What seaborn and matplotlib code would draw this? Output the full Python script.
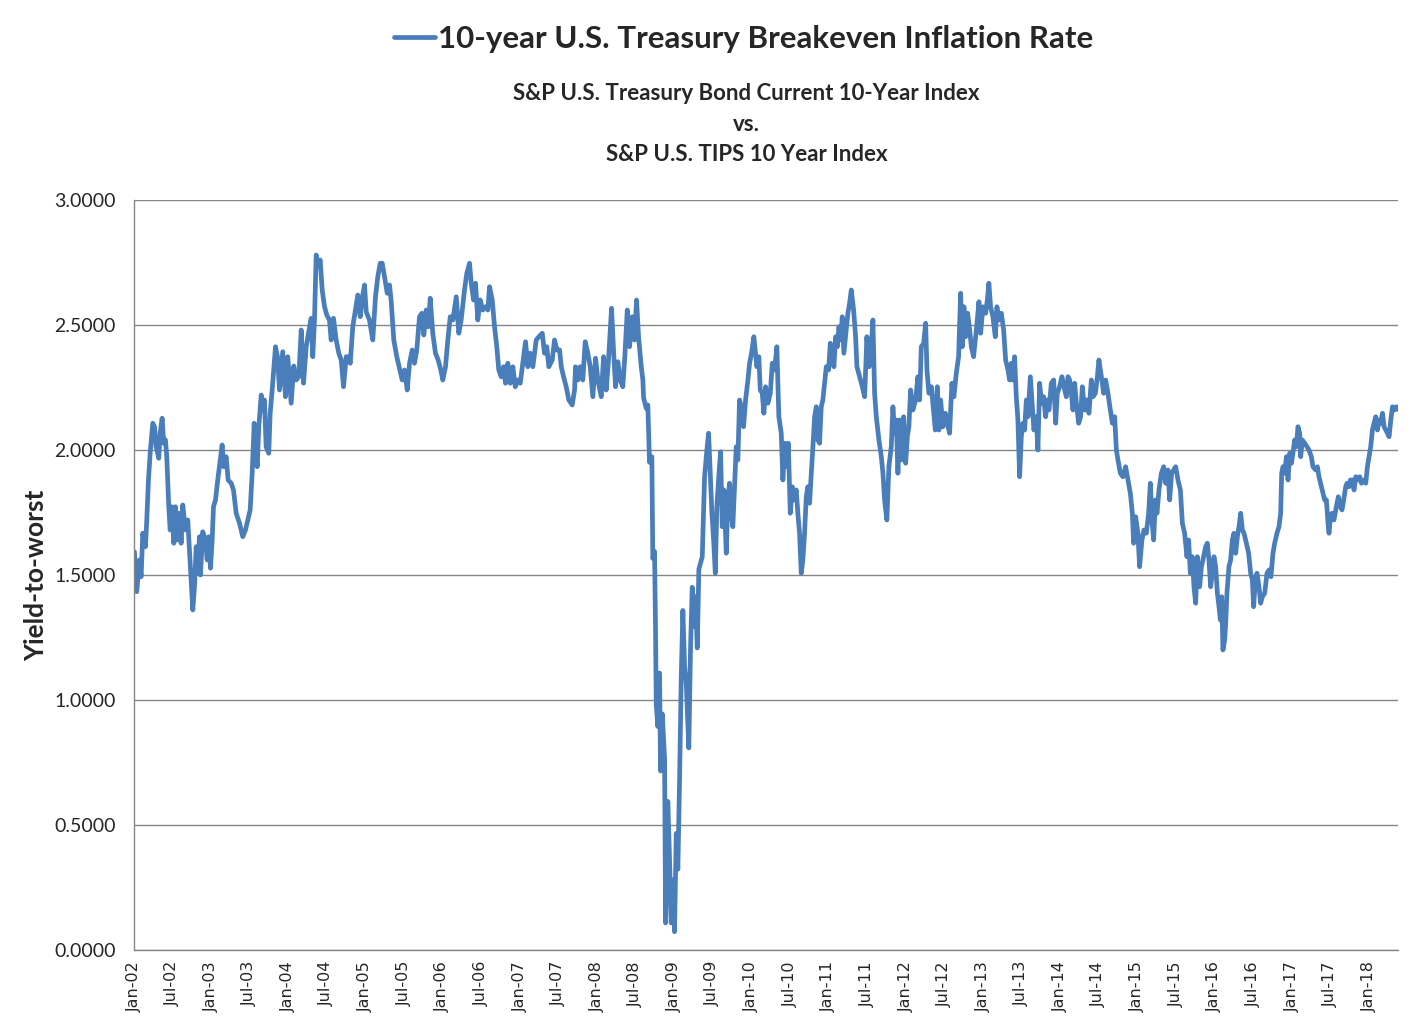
import matplotlib
matplotlib.use('Agg')
import matplotlib.pyplot as plt
import matplotlib.dates as mdates
import numpy as np
import pandas as pd
import seaborn as sns

# years elapsed since 2002-01-01
t_years = [
    0.006, 0.036, 0.071, 0.093, 0.114, 0.149, 0.166, 0.188, 0.210, 0.244, 0.266, 0.288, 0.321, 0.339, 0.365,
    0.386, 0.408, 0.425, 0.451, 0.469, 0.490, 0.516, 0.538, 0.560, 0.589, 0.611, 0.632, 0.667, 0.697, 0.719,
    0.741, 0.762, 0.784, 0.806, 0.826, 0.848, 0.861, 0.891, 0.926, 0.948, 0.969, 0.991, 1.013, 1.030, 1.056,
    1.085, 1.107, 1.142, 1.163, 1.194, 1.220, 1.259, 1.289, 1.324, 1.367, 1.409, 1.444, 1.474, 1.505, 1.531,
    1.557, 1.574, 1.596, 1.617, 1.648, 1.668, 1.690, 1.712, 1.746, 1.764, 1.790, 1.807, 1.833, 1.859, 1.885,
    1.927, 1.962, 1.992, 2.036, 2.070, 2.101, 2.135, 2.166, 2.196, 2.231, 2.260, 2.295, 2.316, 2.338, 2.360,
    2.386, 2.412, 2.438, 2.468, 2.497, 2.532, 2.554, 2.584, 2.619, 2.653, 2.684, 2.714, 2.749, 2.782, 2.801,
    2.834, 2.869, 2.899, 2.930, 2.956, 2.986, 3.008, 3.050, 3.093, 3.128, 3.158, 3.189, 3.215, 3.245, 3.280,
    3.310, 3.332, 3.365, 3.404, 3.439, 3.474, 3.504, 3.539, 3.569, 3.604, 3.633, 3.663, 3.698, 3.728, 3.754,
    3.785, 3.811, 3.837, 3.870, 3.905, 3.940, 3.974, 4.000, 4.035, 4.065, 4.096, 4.130, 4.174, 4.207, 4.238,
    4.281, 4.311, 4.346, 4.368, 4.398, 4.424, 4.453, 4.484, 4.518, 4.553, 4.583, 4.605, 4.640, 4.670, 4.699,
    4.725, 4.756, 4.786, 4.812, 4.842, 4.873, 4.907, 4.938, 4.971, 5.003, 5.036, 5.071, 5.101, 5.132, 5.166,
    5.210, 5.243, 5.288, 5.317, 5.347, 5.373, 5.417, 5.447, 5.477, 5.512, 5.534, 5.564, 5.598, 5.632, 5.676,
    5.706, 5.719, 5.749, 5.780, 5.813, 5.844, 5.878, 5.909, 5.943, 5.978, 6.008, 6.052, 6.082, 6.116, 6.146,
    6.168, 6.185, 6.211, 6.237, 6.267, 6.298, 6.331, 6.357, 6.389, 6.418, 6.453, 6.483, 6.509, 6.535, 6.570,
    6.591, 6.600, 6.635, 6.655, 6.677, 6.707, 6.720, 6.742, 6.755, 6.764, 6.785, 6.807, 6.820, 6.842, 6.872,
    6.885, 6.914, 6.936, 6.958, 6.979, 7.001, 7.023, 7.044, 7.066, 7.088, 7.109, 7.131, 7.153, 7.186, 7.208,
    7.230, 7.251, 7.273, 7.295, 7.316, 7.360, 7.390, 7.420, 7.442, 7.464, 7.485, 7.507, 7.529, 7.549, 7.571,
    7.597, 7.619, 7.640, 7.671, 7.692, 7.713, 7.736, 7.756, 7.778, 7.800, 7.821, 7.843, 7.865, 7.895, 7.921,
    7.951, 7.973, 7.998, 8.028, 8.050, 8.067, 8.093, 8.111, 8.137, 8.158, 8.180, 8.210, 8.241, 8.267, 8.297,
    8.326, 8.352, 8.383, 8.404, 8.430, 8.448, 8.474, 8.500, 8.526, 8.546, 8.577, 8.598, 8.620, 8.642, 8.663,
    8.685, 8.707, 8.728, 8.750, 8.772, 8.793, 8.815, 8.837, 8.857, 8.879, 8.901, 8.922, 8.944, 8.966, 8.996,
    9.018, 9.044, 9.065, 9.087, 9.109, 9.130, 9.152, 9.173, 9.194, 9.216, 9.246, 9.268, 9.290, 9.320, 9.346,
    9.363, 9.398, 9.433, 9.463, 9.492, 9.520, 9.549, 9.570, 9.592, 9.614, 9.648, 9.679, 9.700, 9.721, 9.751,
    9.777, 9.808, 9.829, 9.851, 9.873, 9.894, 9.916, 9.938, 9.968, 9.994, 10.016, 10.036, 10.058, 10.088, 10.123,
    10.153, 10.175, 10.197, 10.227, 10.253, 10.270, 10.295, 10.327, 10.347, 10.378, 10.404, 10.425, 10.447, 10.477, 10.508,
    10.534, 10.563, 10.593, 10.619, 10.650, 10.680, 10.706, 10.728, 10.749, 10.771, 10.797, 10.823, 10.845, 10.874, 10.900,
    10.922, 10.943, 10.965, 10.995, 11.030, 11.052, 11.072, 11.094, 11.124, 11.155, 11.176, 11.202, 11.233, 11.263, 11.289,
    11.319, 11.340, 11.362, 11.383, 11.405, 11.427, 11.448, 11.470, 11.492, 11.513, 11.535, 11.557, 11.578, 11.609, 11.635,
    11.655, 11.686, 11.707, 11.729, 11.755, 11.781, 11.807, 11.829, 11.850, 11.881, 11.911, 11.937, 11.958, 11.988, 12.018,
    12.044, 12.075, 12.096, 12.118, 12.140, 12.161, 12.183, 12.205, 12.235, 12.260, 12.282, 12.312, 12.342, 12.368, 12.399,
    12.420, 12.451, 12.477, 12.497, 12.541, 12.558, 12.584, 12.614, 12.645, 12.671, 12.701, 12.723, 12.744, 12.775, 12.808,
    12.843, 12.873, 12.904, 12.930, 12.947, 12.973, 13.002, 13.024, 13.054, 13.080, 13.111, 13.141, 13.163, 13.184, 13.206,
    13.228, 13.249, 13.275, 13.306, 13.336, 13.362, 13.391, 13.413, 13.439, 13.465, 13.491, 13.521, 13.552, 13.578, 13.607,
    13.637, 13.659, 13.681, 13.707, 13.728, 13.750, 13.772, 13.802, 13.824, 13.853, 13.879, 13.901, 13.922, 13.944, 13.966,
    13.987, 14.009, 14.031, 14.052, 14.070, 14.087, 14.103, 14.126, 14.139, 14.155, 14.181, 14.203, 14.225, 14.246, 14.268,
    14.290, 14.311, 14.333, 14.355, 14.376, 14.407, 14.436, 14.462, 14.484, 14.501, 14.523, 14.544, 14.570, 14.592, 14.614,
    14.644, 14.674, 14.700, 14.725, 14.751, 14.773, 14.803, 14.829, 14.851, 14.864, 14.881, 14.903, 14.925, 14.946, 14.968,
    14.990, 15.010, 15.032, 15.054, 15.075, 15.097, 15.110, 15.132, 15.162, 15.192, 15.217, 15.248, 15.269, 15.304, 15.326,
    15.347, 15.378, 15.399, 15.421, 15.443, 15.464, 15.477, 15.495, 15.516, 15.541, 15.572, 15.598, 15.624, 15.645, 15.667,
    15.693, 15.710, 15.736, 15.754, 15.780, 15.801, 15.823, 15.853, 15.875, 15.897, 15.927, 15.953, 15.974, 15.995, 16.017,
    16.039, 16.060, 16.082, 16.104, 16.125, 16.147, 16.169, 16.190, 16.212, 16.234, 16.255, 16.277, 16.299, 16.325, 16.351,
    16.381,
]

# breakeven rate (yield-to-worst difference)
breakeven = [
    1.593, 1.433, 1.560, 1.493, 1.667, 1.613, 1.720, 1.880, 1.987, 2.107, 2.093, 2.013, 1.967, 2.067, 2.127,
    2.027, 2.040, 1.973, 1.773, 1.680, 1.773, 1.627, 1.773, 1.640, 1.747, 1.627, 1.780, 1.680, 1.720, 1.600,
    1.480, 1.360, 1.453, 1.613, 1.507, 1.653, 1.500, 1.673, 1.640, 1.560, 1.653, 1.527, 1.640, 1.773, 1.800,
    1.880, 1.933, 2.020, 1.933, 1.973, 1.880, 1.867, 1.840, 1.747, 1.707, 1.653, 1.680, 1.720, 1.760, 1.907,
    2.107, 2.027, 1.933, 2.093, 2.220, 2.160, 2.200, 2.013, 1.987, 2.147, 2.240, 2.307, 2.413, 2.373, 2.240,
    2.393, 2.213, 2.373, 2.187, 2.336, 2.280, 2.293, 2.480, 2.267, 2.413, 2.467, 2.527, 2.373, 2.520, 2.780,
    2.733, 2.760, 2.640, 2.573, 2.540, 2.520, 2.440, 2.527, 2.440, 2.387, 2.360, 2.253, 2.373, 2.373, 2.347,
    2.493, 2.560, 2.620, 2.533, 2.607, 2.660, 2.553, 2.520, 2.440, 2.613, 2.693, 2.747, 2.747, 2.693, 2.627,
    2.660, 2.593, 2.440, 2.373, 2.327, 2.280, 2.320, 2.240, 2.347, 2.400, 2.347, 2.400, 2.533, 2.547, 2.460,
    2.560, 2.493, 2.607, 2.467, 2.387, 2.360, 2.320, 2.280, 2.333, 2.440, 2.533, 2.520, 2.613, 2.467, 2.520,
    2.640, 2.707, 2.747, 2.667, 2.600, 2.667, 2.520, 2.600, 2.560, 2.573, 2.560, 2.653, 2.600, 2.493, 2.413,
    2.320, 2.293, 2.333, 2.267, 2.347, 2.267, 2.333, 2.253, 2.280, 2.267, 2.347, 2.433, 2.333, 2.387, 2.333,
    2.440, 2.453, 2.467, 2.387, 2.413, 2.333, 2.360, 2.440, 2.400, 2.400, 2.333, 2.293, 2.253, 2.200, 2.180,
    2.240, 2.333, 2.280, 2.333, 2.280, 2.433, 2.387, 2.333, 2.213, 2.367, 2.280, 2.213, 2.373, 2.240, 2.360,
    2.480, 2.567, 2.400, 2.253, 2.353, 2.280, 2.253, 2.373, 2.560, 2.413, 2.533, 2.440, 2.600, 2.453, 2.333,
    2.280, 2.209, 2.166, 2.180, 1.951, 1.973, 1.566, 1.594, 1.280, 0.980, 0.894, 1.108, 0.716, 0.944, 0.766,
    0.108, 0.594, 0.366, 0.108, 0.280, 0.073, 0.466, 0.323, 0.680, 1.094, 1.358, 1.137, 1.066, 0.808, 1.208,
    1.451, 1.294, 1.414, 1.208, 1.523, 1.573, 1.893, 2.000, 2.067, 1.907, 1.747, 1.640, 1.507, 1.773, 1.880,
    1.993, 1.693, 1.840, 1.587, 1.800, 1.867, 1.747, 1.693, 1.853, 2.013, 1.960, 2.200, 2.173, 2.093, 2.200,
    2.280, 2.347, 2.387, 2.453, 2.387, 2.333, 2.373, 2.240, 2.227, 2.147, 2.253, 2.187, 2.227, 2.347, 2.320,
    2.413, 2.133, 2.067, 1.880, 2.027, 1.933, 2.027, 1.747, 1.853, 1.800, 1.840, 1.747, 1.667, 1.507, 1.560,
    1.667, 1.813, 1.853, 1.787, 1.907, 2.013, 2.133, 2.173, 2.040, 2.027, 2.173, 2.200, 2.267, 2.333, 2.320,
    2.427, 2.400, 2.333, 2.453, 2.413, 2.493, 2.440, 2.533, 2.387, 2.453, 2.547, 2.587, 2.640, 2.560, 2.453,
    2.333, 2.293, 2.253, 2.213, 2.453, 2.333, 2.413, 2.520, 2.227, 2.133, 2.040, 1.973, 1.907, 1.800, 1.720,
    1.933, 2.013, 2.173, 2.067, 2.120, 1.907, 2.120, 1.960, 2.133, 1.947, 2.053, 2.093, 2.240, 2.160, 2.200,
    2.293, 2.200, 2.413, 2.427, 2.507, 2.320, 2.227, 2.253, 2.187, 2.080, 2.253, 2.080, 2.200, 2.093, 2.147,
    2.107, 2.067, 2.267, 2.213, 2.307, 2.373, 2.627, 2.413, 2.573, 2.453, 2.547, 2.480, 2.413, 2.373, 2.453,
    2.520, 2.593, 2.467, 2.573, 2.547, 2.600, 2.667, 2.573, 2.533, 2.453, 2.573, 2.520, 2.547, 2.480, 2.360,
    2.320, 2.280, 2.347, 2.280, 2.373, 2.213, 2.120, 1.893, 2.053, 2.107, 2.080, 2.200, 2.133, 2.293, 2.173,
    2.080, 2.133, 2.000, 2.267, 2.187, 2.213, 2.133, 2.200, 2.160, 2.267, 2.280, 2.107, 2.227, 2.253, 2.293,
    2.253, 2.213, 2.293, 2.280, 2.227, 2.160, 2.267, 2.187, 2.107, 2.133, 2.253, 2.160, 2.200, 2.147, 2.280,
    2.213, 2.227, 2.293, 2.360, 2.267, 2.227, 2.280, 2.227, 2.160, 2.107, 2.133, 2.000, 1.960, 1.907, 1.893,
    1.933, 1.880, 1.827, 1.747, 1.627, 1.733, 1.667, 1.533, 1.640, 1.680, 1.667, 1.747, 1.867, 1.720, 1.640,
    1.800, 1.747, 1.840, 1.907, 1.933, 1.867, 1.920, 1.800, 1.907, 1.920, 1.933, 1.880, 1.840, 1.707, 1.667,
    1.573, 1.640, 1.507, 1.573, 1.453, 1.387, 1.573, 1.453, 1.533, 1.573, 1.613, 1.627, 1.560, 1.453, 1.507,
    1.573, 1.533, 1.427, 1.373, 1.320, 1.413, 1.200, 1.240, 1.307, 1.427, 1.533, 1.560, 1.640, 1.667, 1.587,
    1.653, 1.693, 1.747, 1.680, 1.667, 1.627, 1.587, 1.507, 1.480, 1.373, 1.480, 1.507, 1.453, 1.387, 1.413,
    1.427, 1.507, 1.520, 1.493, 1.587, 1.627, 1.667, 1.693, 1.747, 1.907, 1.933, 1.907, 1.973, 1.880, 1.987,
    1.947, 1.987, 2.040, 2.013, 2.093, 2.067, 1.973, 2.040, 2.027, 2.013, 2.000, 1.973, 1.933, 1.920, 1.933,
    1.893, 1.853, 1.827, 1.800, 1.800, 1.707, 1.667, 1.733, 1.747, 1.720, 1.773, 1.813, 1.773, 1.760, 1.800,
    1.853, 1.867, 1.853, 1.880, 1.880, 1.840, 1.893, 1.880, 1.893, 1.867, 1.880, 1.867, 1.933, 1.973, 2.013,
    2.080, 2.107, 2.133, 2.080, 2.120, 2.107, 2.147, 2.093, 2.080, 2.067, 2.053, 2.120, 2.173, 2.160, 2.173,
    2.160,
]

y_ticks = [0.0, 0.5, 1.0, 1.5, 2.0, 2.5, 3.0]
series_name = '10-year U.S. Treasury Breakeven Inflation Rate'
subtitle = ['S&P U.S. Treasury Bond Current 10-Year Index', 'vs.', 'S&P U.S. TIPS 10 Year Index']

start = pd.Timestamp('2002-01-01')
df = pd.DataFrame({
    'date': start + pd.to_timedelta(np.array(t_years) * 365.25, unit='D'),
    'rate': breakeven,
})

sns.set_style('white')
plt.rcParams['font.family'] = ['Lato', 'DejaVu Sans']

grid_col = '#868686'
line_col = '#4A7EBB'

fig = plt.figure(figsize=(14.22, 10.32), dpi=100)
ax = fig.add_axes([0.0942, 0.0795, 0.8889, 0.7267])

sns.lineplot(data=df, x='date', y='rate', ax=ax, color=line_col, linewidth=3.4, label=series_name)

handles, labels = ax.get_legend_handles_labels()
ax.get_legend().remove()
fig.legend(handles, labels, loc='center', bbox_to_anchor=(0.523, 0.962), frameon=False,
           prop=dict(weight='bold', size=22.5), handlelength=1.3, handletextpad=0.1)

for i, line in enumerate(subtitle):
    fig.text(0.525, 0.909 - i * 0.0295, line, ha='center', va='center', fontsize=16, fontweight='bold')

fig.text(0.0253, 0.443, 'Yield-to-worst', rotation=90, ha='center', va='center',
         fontsize=19, fontweight='bold')

ax.set_ylim(0, 3)
ax.set_yticks(y_ticks)
ax.set_yticklabels([f'{v:.4f}' for v in y_ticks], fontsize=14)
ax.set_xlim(start, start + pd.Timedelta(days=16.37 * 365.25))
ax.xaxis.set_major_locator(mdates.MonthLocator(bymonth=[1, 7]))
ax.xaxis.set_major_formatter(mdates.DateFormatter('%b-%y'))
ax.tick_params(axis='x', rotation=90, labelsize=11.5, labelfontfamily='DejaVu Sans',
               direction='out', length=5, color=grid_col, pad=3)
ax.tick_params(axis='y', length=0, pad=13)
ax.set_xlabel('')
ax.set_ylabel('')

ax.yaxis.grid(True, color=grid_col, linewidth=1)
ax.xaxis.grid(False)
ax.set_axisbelow(True)
for side in ['top', 'right']:
    ax.spines[side].set_visible(False)
for side in ['left', 'bottom']:
    ax.spines[side].set_color(grid_col)
    ax.spines[side].set_linewidth(1)

fig.savefig('out.png', dpi=100)
